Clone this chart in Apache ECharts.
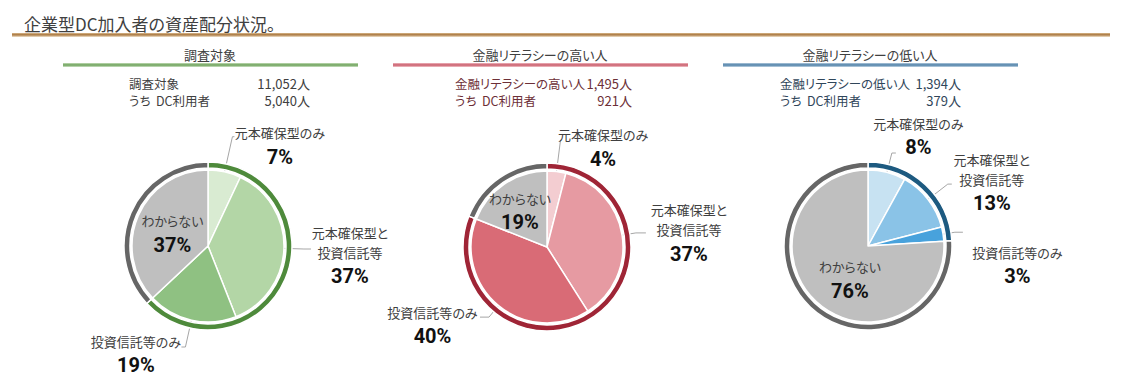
<!DOCTYPE html>
<html><head><meta charset="utf-8">
<script src="https://cdn.jsdelivr.net/npm/echarts@6/dist/echarts.min.js"></script>
<style>html,body{margin:0;padding:0;background:#fff}#c{width:1130px;height:390px}
#c text{font-feature-settings:"palt" 1 !important;}</style>
</head><body><div id="c"></div>
<script>
const chartTitle = '企業型DC加入者の資産配分状況。';
const panelTitles = ['調査対象', '金融リテラシーの高い人', '金融リテラシーの低い人'];
const infoLabels = [['調査対象', 'うち  DC利用者'], ['金融リテラシーの高い人', 'うち  DC利用者'], ['金融リテラシーの低い人', 'うち  DC利用者']];
const infoCounts = [['11,052人', '5,040人'], ['1,495人', '921人'], ['1,394人', '379人']];
const categories = ['元本確保型のみ', '元本確保型と\n投資信託等', '投資信託等のみ', 'わからない'];
const shareAll = [7, 37, 19, 37];
const shareHigh = [4, 37, 40, 19];
const shareLow = [8, 13, 3, 76];

const JP = '"Noto Sans CJK JP", "Noto Sans", sans-serif';
const NARROW = 'Roboto, "Noto Sans", sans-serif';
const panels = [
  {values: shareAll, center: [208, 246], colors: ['#d9ebd2', '#b3d6a6', '#8fc182', '#bfbfbf'], ring: '#4e8a3b',
   infoColor: '#404040', titleX: 210, lineX: [63, 358], infoX: [129, 310],
   line: ['#c4ddb8', '#6a9f57', '#cfe3c6'],
   lens: [[36, 2], [20, 7], [27.5, 4]], tweak: [[0, 10], [0, 7], [0, 8], [2, 5]]},
  {values: shareHigh, center: [547, 247], colors: ['#f3cdd1', '#e69aa2', '#d96b76', '#bfbfbf'], ring: '#9f2536',
   infoColor: '#6d2f37', titleX: 540, lineX: [393, 688], infoX: [455, 632],
   line: ['#eeb7be', '#c85a69', '#f2c6cb'],
   lens: [[32, 0], [14, 10], [15, 9]], tweak: [[-3, 9], [4, 1], [-2, 9], [-4, -1]]},
  {values: shareLow, center: [868, 246], colors: ['#c7e2f2', '#8ac3e7', '#48a2dc', '#bfbfbf'], ring: '#1d5a80',
   infoColor: '#30465a', titleX: 870, lineX: [723, 1018], infoX: [780, 961],
   line: ['#b3cadd', '#4b7ea6', '#c3d5e4'],
   lens: [[20, 4], [25, 4], [12, 8]], tweak: [[-23, -16], [1, -1], [9, 34], [10, 5]]}
];

const graphic = [
  {type: 'text', x: 24, y: 23, style: {text: chartTitle, font: '17px ' + JP, fill: '#404040', verticalAlign: 'middle', textVerticalAlign: 'middle'}},
  {type: 'rect', shape: {x: 12, y: 33, width: 1098, height: 4},
   style: {fill: {type: 'linear', x: 0, y: 0, x2: 0, y2: 1, colorStops: [{offset: 0, color: '#d8b88c'}, {offset: 0.45, color: '#a9773f'}, {offset: 1, color: '#f1e3cd'}]}}}
];
panels.forEach((p, k) => {
  graphic.push({type: 'text', x: p.titleX, y: 54, style: {text: panelTitles[k], font: '13px ' + JP, fill: '#404040', align: 'center', textAlign: 'center', verticalAlign: 'middle', textVerticalAlign: 'middle'}});
  graphic.push({type: 'rect', shape: {x: p.lineX[0], y: 63, width: p.lineX[1] - p.lineX[0], height: 4},
    style: {fill: {type: 'linear', x: 0, y: 0, x2: 0, y2: 1, colorStops: [{offset: 0, color: p.line[0]}, {offset: 0.5, color: p.line[1]}, {offset: 1, color: p.line[2]}]}}});
  [0, 1].forEach(r => {
    graphic.push({type: 'text', x: p.infoX[0], y: 83 + r * 17, style: {text: infoLabels[k][r], font: '12.5px ' + JP, fill: p.infoColor, verticalAlign: 'middle', textVerticalAlign: 'middle'}});
    graphic.push({type: 'text', x: p.infoX[1], y: 83 + r * 17, style: {text: infoCounts[k][r], font: '13px ' + JP, fill: p.infoColor, align: 'right', textAlign: 'right', verticalAlign: 'middle', textVerticalAlign: 'middle'}});
  });
});

const labelFmt = prm => prm.name.split('\n').map(s => '{n|' + s + '}').join('\n') + '\n{p|' + prm.value + '%}';
const rich = {
  n: {fontFamily: JP, fontSize: 13, color: '#404040', lineHeight: 20, align: 'center'},
  p: {fontFamily: NARROW, fontSize: 20, fontWeight: 'bold', color: '#111', lineHeight: 28, align: 'center'}
};

const series = [];
panels.forEach((p, k) => {
  const known = p.values.slice(0, 3).reduce((a, b) => a + b, 0);
  const unknown = p.values[3];
  series.push({
    type: 'pie', z: 2, center: p.center, radius: [0, 76], startAngle: 90, clockwise: true,
    avoidLabelOverlap: false, animation: false, emphasis: {disabled: true, scale: false},
    itemStyle: {borderColor: '#fff', borderWidth: 1.5},
    label: {show: true, position: 'outside', alignTo: 'none', distanceToLabelLine: 0, formatter: labelFmt, rich: rich},
    labelLine: {show: true, lineStyle: {color: '#a6a6a6', width: 1}},
    labelLayout: prm => {
      const t = panels[Math.floor(prm.seriesIndex / 2)].tweak[prm.dataIndex];
      return {dx: t[0], dy: t[1]};
    },
    data: categories.map((c, i) => {
      const d = {name: c, value: p.values[i], itemStyle: {color: p.colors[i]}};
      if (i === 3) { d.label = {position: 'inside'}; d.labelLine = {show: false}; }
      else { d.labelLine = {length: p.lens[i][0], length2: p.lens[i][1]}; }
      return d;
    })
  });
  series.push({
    type: 'pie', z: 3, center: p.center, radius: [78, 84], startAngle: 90, clockwise: true, silent: true,
    animation: false, emphasis: {disabled: true, scale: false}, label: {show: false}, labelLine: {show: false},
    itemStyle: {borderColor: '#fff', borderWidth: 1.5},
    data: [{name: 'known', value: known, itemStyle: {color: p.ring}}, {name: 'unknown', value: unknown, itemStyle: {color: '#666666'}}]
  });
});

const chart = echarts.init(document.getElementById('c'), null, {renderer: 'svg'});
chart.setOption({backgroundColor: '#fff', animation: false, tooltip: {show: false}, graphic: graphic, series: series});
</script></body></html>
